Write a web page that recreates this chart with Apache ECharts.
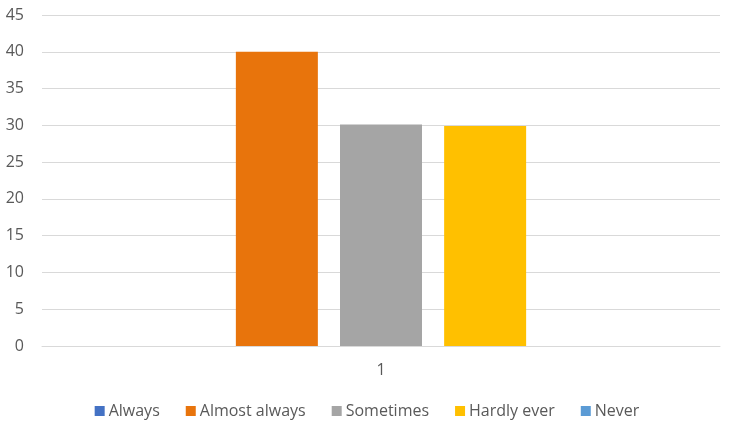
<!DOCTYPE html>
<html><head><meta charset="utf-8">
<script src="https://cdn.jsdelivr.net/npm/echarts@6/dist/echarts.min.js"></script>
<style>html,body{margin:0;padding:0;background:#fff}#c{width:734px;height:427px}</style>
</head><body><div id="c"></div>
<script>
const categories = ['1'];
const seriesNames = ['Always', 'Almost always', 'Sometimes', 'Hardly ever', 'Never'];
const alwaysVals = [0];
const almostAlwaysVals = [40];
const sometimesVals = [30.1];
const hardlyEverVals = [29.9];
const neverVals = [0];
const colors = ['#4472C4', '#E8740C', '#A5A5A5', '#FFC000', '#5B9BD5'];
const allVals = [alwaysVals, almostAlwaysVals, sometimesVals, hardlyEverVals, neverVals];
const font = 'Open Sans, Liberation Sans, sans-serif';
const chart = echarts.init(document.getElementById('c'), null, {renderer: 'canvas'});
chart.setOption({
  animation: false,
  grid: {left: 42, right: 14, top: 15, bottom: 81, containLabel: false},
  legend: {
    bottom: 3, left: 'center', itemWidth: 10, itemHeight: 10, itemGap: 26,
    icon: 'rect',
    itemStyle: {borderWidth: 0},
    textStyle: {color: '#595959', fontSize: 16, fontFamily: font, padding: [0,0,0,-1]},
    data: seriesNames
  },
  xAxis: {
    type: 'category', data: categories,
    axisLine: {lineStyle: {color: '#D9D9D9', width: 1}},
    axisTick: {show: false},
    axisLabel: {color: '#595959', fontSize: 16, fontFamily: font, margin: 16}
  },
  yAxis: {
    type: 'value', min: 0, max: 45, interval: 5,
    axisLine: {show: false}, axisTick: {show: false},
    splitLine: {lineStyle: {color: '#D9D9D9', width: 1}},
    axisLabel: {color: '#595959', fontSize: 16, fontFamily: font, margin: 18}
  },
  series: seriesNames.map((n, i) => ({
    name: n, type: 'bar', data: allVals[i],
    barWidth: 82, barGap: '27%',
    itemStyle: {color: colors[i], borderWidth: 0}
  }))
});
</script></body></html>
